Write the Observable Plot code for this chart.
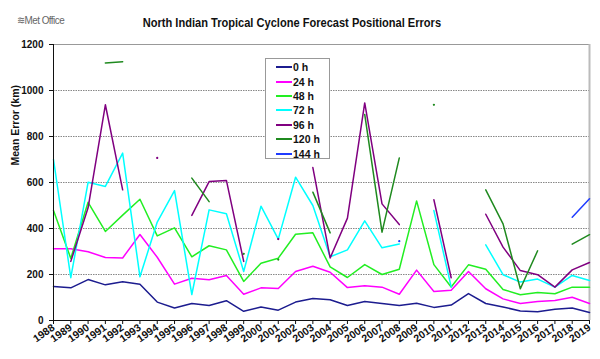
<!DOCTYPE html>
<html>
<head>
<meta charset="utf-8">
<script src="https://cdn.jsdelivr.net/npm/d3@7"></script>
<script src="https://cdn.jsdelivr.net/npm/@observablehq/plot@0.6"></script>
<style>
  body { margin: 0; background: #fff; }
  #wrap { position: relative; width: 600px; height: 359px; font-family: "Liberation Sans", Arial, sans-serif; }
  #head { position: relative; height: 34px; }
  #logo { position: absolute; left: 17px; top: 14px; font-size: 11px; color: #666; letter-spacing: -0.6px; transform: scaleX(0.9); transform-origin: left center; }
  #title { position: absolute; left: 0; width: 584px; top: 13px; text-align: center; }
  #title span { display: inline-block; font-size: 13.5px; font-weight: bold; color: #111; transform: scaleX(0.82); transform-origin: center center; white-space: nowrap; }
  #legend { position: absolute; left: 265px; top: 58px; width: 65px; height: 101px; border: 1px solid #999; background: #fff; box-sizing: border-box; padding-top: 1px; }
  .item { height: 14.4px; display: flex; align-items: center; font-size: 10.5px; font-weight: bold; color: #111; }
  .sw { display: inline-block; width: 16px; height: 2px; margin-left: 10px; margin-right: 1px; }
  svg text { font-weight: bold; }
</style>
</head>
<body>
<div id="wrap">
  <div id="head"><div id="logo">&#8779;Met Office</div><div id="title"><span>North Indian Tropical Cyclone Forecast Positional Errors</span></div></div>
  <div id="chart"></div>
  <div id="legend"></div>
</div>
<script>
const years = d3.range(1988, 2020);
const seriesNames = ["0 h", "24 h", "48 h", "72 h", "96 h", "120 h", "144 h"];
const seriesColors = ["#1c1c8f", "#ff00ff", "#22ee22", "#00ffff", "#800080", "#1f8a1f", "#1f3cff"];
const yTicks = [0, 200, 400, 600, 800, 1000, 1200];

const h0 = [148,142,178,155,168,158,80,54,74,65,86,40,59,45,80,96,90,65,83,74,65,75,57,67,117,74,59,41,38,49,54,35];
const h24 = [312,312,299,274,272,374,275,158,184,177,196,114,142,139,213,236,210,143,151,145,114,219,126,132,213,138,94,74,83,87,101,74];
const h48 = [478,270,514,387,458,527,368,403,277,325,307,170,249,271,375,381,233,187,243,200,223,520,243,146,242,223,135,112,122,116,145,145];
const h72 = [700,186,601,583,728,190,428,565,113,481,464,213,497,354,623,500,277,307,433,316,333,null,478,146,null,329,199,167,180,145,196,174];
const h96 = [null,257,490,938,568,null,707,null,457,604,609,257,null,354,null,665,272,445,946,507,417,null,525,186,null,462,319,217,199,145,220,252];
const h120 = [null,null,null,1120,1125,null,null,null,619,517,null,290,null,265,null,558,381,null,896,384,707,null,938,null,null,568,420,138,303,null,332,373];
const h144 = [null,null,null,null,null,null,null,null,null,null,null,null,null,null,null,null,null,null,null,null,345,null,null,null,null,null,null,null,null,null,449,529];

const allSeries = [h0, h24, h48, h72, h96, h120, h144];
const data = [];
allSeries.forEach((arr, si) => arr.forEach((v, i) => data.push({year: years[i], value: v, series: seriesNames[si]})));
const isolated = [];
allSeries.forEach((arr, si) => arr.forEach((v, i) => {
  if (v != null && (i === 0 || arr[i-1] == null) && (i === arr.length - 1 || arr[i+1] == null))
    isolated.push({year: years[i], value: v, series: seriesNames[si]});
}));

const chart = Plot.plot({
  width: 600,
  height: 325,
  marginTop: 10,
  marginBottom: 39,
  marginLeft: 53,
  marginRight: 11,
  style: {fontFamily: "'Liberation Sans', Arial, sans-serif", fontSize: "10px", color: "#111", background: "#fff"},
  x: {domain: [d3.min(years), d3.max(years)]},
  y: {domain: [0, 1200]},
  color: {domain: seriesNames, range: seriesColors},
  marks: [
    Plot.gridY(yTicks, {stroke: "#888", strokeOpacity: 1, strokeDasharray: "1.5,1"}),
    Plot.ruleY([d3.max(yTicks)], {stroke: "#999"}),
    Plot.ruleX([d3.max(years)], {stroke: "#bbb", strokeWidth: 2}),
    Plot.line(data, {x: "year", y: "value", z: "series", stroke: "series", strokeWidth: 1.5}),
    Plot.dot(isolated, {x: "year", y: "value", fill: "series", r: 1.1}),
    Plot.axisY({ticks: yTicks, tickFormat: d => String(d), tickSize: 4, tickPadding: 6, label: null, fontWeight: "bold"}),
    Plot.axisX({ticks: years, tickFormat: d => String(d), tickSize: 4, tickPadding: 2, tickRotate: -35, label: null, fontWeight: "bold", fontSize: 10.5}),
    Plot.ruleX([d3.min(years)], {stroke: "#111"}),
    Plot.ruleY([0], {stroke: "#111"}),
    Plot.text(["Mean Error (km)"], {frameAnchor: "left", rotate: -90, dx: -38, dy: -17, fontWeight: "bold", fontSize: 10.5})
  ]
});
document.getElementById("chart").appendChild(chart);

const legend = document.getElementById("legend");
seriesNames.forEach((n, i) => {
  const it = document.createElement("div");
  it.className = "item";
  const sw = document.createElement("span");
  sw.className = "sw";
  sw.style.background = seriesColors[i];
  const lab = document.createElement("span");
  lab.textContent = n;
  it.appendChild(sw);
  it.appendChild(lab);
  legend.appendChild(it);
});
</script>
</body>
</html>
